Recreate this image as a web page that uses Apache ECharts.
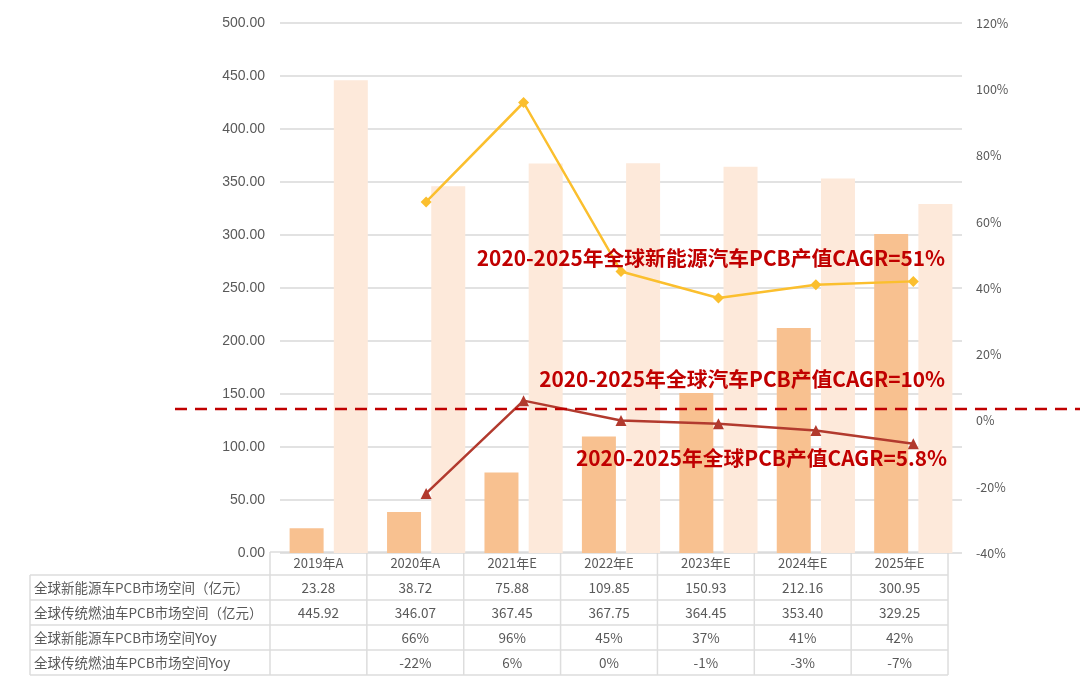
<!DOCTYPE html>
<html>
<head>
<meta charset="utf-8">
<script src="https://cdn.jsdelivr.net/npm/echarts@6/dist/echarts.min.js"></script>
<style>
  html, body { margin: 0; padding: 0; background: #fff; }
  #chart-container { width: 1080px; height: 692px; }
</style>
</head>
<body>
<div id="chart-container"></div>
<script>
var dom = document.getElementById('chart-container');
var myChart = echarts.init(dom, null, { renderer: 'canvas' });

const years = ['2019年A', '2020年A', '2021年E', '2022年E', '2023年E', '2024年E', '2025年E'];
const nevMarket = [23.28, 38.72, 75.88, 109.85, 150.93, 212.16, 300.95];
const iceMarket = [445.92, 346.07, 367.45, 367.75, 364.45, 353.40, 329.25];
const nevYoy = [null, 66, 96, 45, 37, 41, 42];
const iceYoy = [null, -22, 6, 0, -1, -3, -7];

const rowNames = [
    '全球新能源车PCB市场空间（亿元）',
    '全球传统燃油车PCB市场空间（亿元）',
    '全球新能源车PCB市场空间Yoy',
    '全球传统燃油车PCB市场空间Yoy'
];
const notes = [
    '2020-2025年全球新能源汽车PCB产值CAGR=51%',
    '2020-2025年全球汽车PCB产值CAGR=10%',
    '2020-2025年全球PCB产值CAGR=5.8%'
];

const textColor = '#595959';
const cjk = '"Noto Sans CJK SC", "Liberation Sans", sans-serif';

// table under the chart, built from the arrays above
function buildTable() {
    const left = 30, labelW = 240, colW = 96.86, top = 552;
    const headH = 23, rowH = 25;
    const border = '#DDDDDD';
    let els = [];
    let rows = [
        nevMarket.map(v => v.toFixed(2)),
        iceMarket.map(v => v.toFixed(2)),
        nevYoy.map(v => v === null ? '' : v + '%'),
        iceYoy.map(v => v === null ? '' : v + '%')
    ];
    let x0 = left + labelW;
    let x1 = x0 + colW * years.length;
    let yEnd = top + headH + rowH * rows.length;
    // horizontal lines
    els.push({ type: 'line', shape: { x1: x0, y1: top, x2: x1, y2: top }, style: { stroke: border, lineWidth: 1.5 } });
    for (let r = 0; r <= rows.length; r++) {
        let y = top + headH + rowH * r;
        els.push({ type: 'line', shape: { x1: left, y1: y, x2: x1, y2: y }, style: { stroke: border, lineWidth: 1.5 } });
    }
    // vertical lines
    els.push({ type: 'line', shape: { x1: left, y1: top + headH, x2: left, y2: yEnd }, style: { stroke: border, lineWidth: 1.5 } });
    for (let c = 0; c <= years.length; c++) {
        let x = x0 + colW * c;
        els.push({ type: 'line', shape: { x1: x, y1: top, x2: x, y2: yEnd }, style: { stroke: border, lineWidth: 1.5 } });
    }
    // header
    years.forEach(function (y, c) {
        els.push({
            type: 'text', x: x0 + colW * (c + 0.5), y: top + headH / 2,
            style: { text: y, fill: textColor, font: '13px ' + cjk, textAlign: 'center', textVerticalAlign: 'middle' }
        });
    });
    rows.forEach(function (row, r) {
        let cy = top + headH + rowH * (r + 0.5);
        els.push({
            type: 'text', x: left + 4, y: cy,
            style: { text: rowNames[r], fill: textColor, font: '13.5px ' + cjk, textAlign: 'left', textVerticalAlign: 'middle' }
        });
        row.forEach(function (v, c) {
            els.push({
                type: 'text', x: x0 + colW * (c + 0.5), y: cy,
                style: { text: v, fill: textColor, font: '13.5px ' + cjk, textAlign: 'center', textVerticalAlign: 'middle' }
            });
        });
    });
    return els;
}

let graphics = buildTable();
// dashed divider line
graphics.push({
    type: 'line', shape: { x1: 175, y1: 409, x2: 1080, y2: 409 },
    style: { stroke: '#C00000', lineWidth: 2.5, lineDash: [12, 8] }, z: 10
});
// CAGR notes
[[945, 258], [945, 379], [947, 458]].forEach(function (p, i) {
    graphics.push({
        type: 'text', x: p[0], y: p[1], z: 20,
        style: {
            text: notes[i], fill: '#C00000', font: 'bold 20.8px ' + cjk,
            textAlign: 'right', textVerticalAlign: 'middle'
        }
    });
});

var option = {
    animation: false,
    grid: { left: 280, right: 118, top: 23, bottom: 139 },
    xAxis: {
        type: 'category',
        data: years,
        axisLine: { show: false },
        axisTick: { show: false },
        axisLabel: { show: false }
    },
    yAxis: [
        {
            type: 'value', min: 0, max: 500, interval: 50,
            axisLine: { show: false }, axisTick: { show: false },
            axisLabel: {
                formatter: function (v) { return v.toFixed(2); },
                color: textColor, fontSize: 14, margin: 15,
                fontFamily: '"Liberation Sans", Arial, sans-serif'
            },
            splitLine: { lineStyle: { color: '#D9D9D9', width: 1.5 } }
        },
        {
            type: 'value', min: -40, max: 120, interval: 20,
            axisLine: { show: false }, axisTick: { show: false },
            axisLabel: {
                formatter: '{value}%', color: textColor, fontSize: 12.5, margin: 14,
                fontFamily: cjk
            },
            splitLine: { show: false }
        }
    ],
    series: [
        {
            name: '全球新能源车PCB市场空间（亿元）',
            type: 'bar', data: nevMarket, barWidth: 34, barGap: '30%',
            itemStyle: { color: '#F8C190' }
        },
        {
            name: '全球传统燃油车PCB市场空间（亿元）',
            type: 'bar', data: iceMarket, barWidth: 34,
            itemStyle: { color: '#FDE9DA' }
        },
        {
            name: '全球新能源车PCB市场空间Yoy',
            type: 'line', yAxisIndex: 1, data: nevYoy,
            symbol: 'diamond', symbolSize: 11, z: 5,
            lineStyle: { color: '#FBBF2E', width: 2.5 },
            itemStyle: { color: '#FBBF2E' }
        },
        {
            name: '全球传统燃油车PCB市场空间Yoy',
            type: 'line', yAxisIndex: 1, data: iceYoy,
            symbol: 'triangle', symbolSize: 11, z: 5,
            lineStyle: { color: '#B23A2E', width: 2.5 },
            itemStyle: { color: '#B23A2E' }
        }
    ],
    graphic: graphics
};

myChart.setOption(option);
window.addEventListener('resize', myChart.resize);
</script>
</body>
</html>
